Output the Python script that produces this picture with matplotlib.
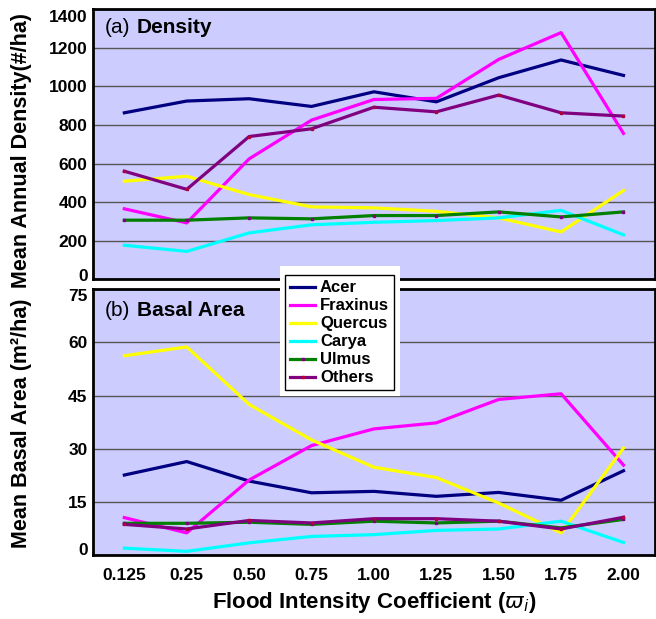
import matplotlib.pyplot as plt
import matplotlib.patches as mpatches
from matplotlib.transforms import ScaledTranslation
import numpy as np

plt.rcParams['font.family'] = ['Liberation Sans', 'DejaVu Sans']
plt.rcParams['mathtext.fontset'] = 'dejavusans'

# flood intensity classes (categorical x axis)
flood_labels = ['0.125', '0.25', '0.50', '0.75', '1.00', '1.25', '1.50', '1.75', '2.00']
genera = ['Acer', 'Fraxinus', 'Quercus', 'Carya', 'Ulmus', 'Others']
colors = ['#000080', '#ff00ff', '#ffff00', '#00ffff', '#007f00', '#800080']
# the excel export leaves tiny point markers on the last two series
marker_colors = [None, None, None, None, '#800080', '#b0003a']

# (a) mean annual density, #/ha
density_acer = [863, 924, 936, 896, 972, 920, 1045, 1137, 1057]
density_fraxinus = [365, 292, 624, 825, 932, 938, 1140, 1279, 756]
density_quercus = [508, 534, 439, 375, 370, 352, 318, 245, 460]
density_carya = [176, 144, 240, 282, 295, 304, 318, 357, 230]
density_ulmus = [306, 306, 318, 313, 330, 330, 349, 323, 349]
density_others = [560, 466, 740, 780, 892, 868, 955, 863, 846]

# (b) mean basal area, m2/ha
basal_acer = [22.6, 26.4, 20.9, 17.6, 18.0, 16.6, 17.7, 15.5, 23.8]
basal_fraxinus = [10.6, 6.3, 21.2, 30.9, 35.6, 37.3, 43.9, 45.5, 25.4]
basal_quercus = [56.2, 58.7, 42.5, 32.5, 24.8, 21.9, 14.7, 6.3, 30.2]
basal_carya = [2.0, 1.1, 3.5, 5.3, 5.8, 7.0, 7.4, 9.6, 3.6]
basal_ulmus = [9.0, 9.0, 9.3, 8.7, 9.6, 9.1, 9.6, 7.7, 10.1]
basal_others = [8.7, 7.4, 9.8, 9.1, 10.3, 10.3, 9.6, 7.4, 10.7]

density = [density_acer, density_fraxinus, density_quercus,
	density_carya, density_ulmus, density_others]
basal = [basal_acer, basal_fraxinus, basal_quercus,
	basal_carya, basal_ulmus, basal_others]


def drawPanel(ax, series, yticks, title_tag, title_word, title_y):
	x = np.arange(len(flood_labels))
	for name, values, color, mcol in zip(genera, series, colors, marker_colors):
		if mcol is None:
			ax.plot(x, values, color=color, lw=2.3, label=name)
		else:
			ax.plot(x, values, color=color, lw=2.3, label=name, marker='s',
				ms=2, mfc=mcol, mec=mcol)
	ax.set_facecolor('#ccccff')
	ax.set_xlim(-0.5, 8.5)
	ax.set_ylim(yticks[0], yticks[-1])
	ax.set_yticks(yticks)
	ax.yaxis.grid(True, color='#555555', lw=1)
	ax.set_axisbelow(True)
	for sp in ax.spines.values():
		sp.set_linewidth(2)
	ax.tick_params(length=0, labelsize=12.5, pad=4)
	for lab in ax.get_yticklabels():
		lab.set_fontweight('bold')
	ax.text(0.021, title_y, title_tag, transform=ax.transAxes, fontsize=15, va='center')
	ax.text(0.078, title_y, title_word, transform=ax.transAxes, fontsize=15,
		fontweight='bold', va='center')


def nudgeEndLabels(ax, fig, low_px, high_px):
	# the end labels sit a little inside the frame, as in the original
	ticks = ax.yaxis.get_major_ticks()
	for tick, dy in ((ticks[0], low_px), (ticks[-1], -high_px)):
		lab = tick.label1
		lab.set_transform(lab.get_transform() + ScaledTranslation(0, dy / 100, fig.dpi_scale_trans))


fig = plt.figure(figsize=(6.56, 6.19), dpi=100)
ax_top = fig.add_axes([0.142, 0.549, 0.856, 0.436])
ax_bot = fig.add_axes([0.142, 0.103, 0.856, 0.430])

drawPanel(ax_top, density, [0, 200, 400, 600, 800, 1000, 1200, 1400], '(a)', 'Density', 0.933)
drawPanel(ax_bot, basal, [0, 15, 30, 45, 60, 75], '(b)', 'Basal Area', 0.92)

ax_top.set_xticks(np.arange(len(flood_labels)))
ax_top.set_xticklabels([])
ax_bot.set_xticks(np.arange(len(flood_labels)))
ax_bot.set_xticklabels(flood_labels, fontweight='bold', fontsize=12.5)
ax_bot.tick_params(axis='x', pad=9)

nudgeEndLabels(ax_top, fig, 4, 7)
nudgeEndLabels(ax_bot, fig, 6, 6)

ax_top.set_ylabel('Mean Annual Density(#/ha)', fontsize=15.5, fontweight='bold')
ax_bot.set_ylabel('Mean Basal Area (m²/ha)', fontsize=15.5, fontweight='bold')
ax_top.yaxis.set_label_coords(-0.127, 0.478)
ax_bot.yaxis.set_label_coords(-0.127, 0.496)
ax_top.yaxis.label.set_va('center')
ax_bot.yaxis.label.set_va('center')
ax_bot.set_xlabel(r'Flood Intensity Coefficient ($\varpi_i$)', fontsize=16,
	fontweight='bold')
ax_bot.xaxis.set_label_coords(0.5, -0.177)
ax_bot.xaxis.label.set_va('center')

# white margin that sits round the legend frame in the original
fig.patches.append(mpatches.Rectangle((280 / 656, 1 - 396 / 619), 120 / 656, 130 / 619,
	transform=fig.transFigure, facecolor='white', edgecolor='none', zorder=5))

handles, labels = ax_top.get_legend_handles_labels()
leg = fig.legend(handles, labels, loc='upper left', bbox_to_anchor=(0.4345, 0.555),
	prop={'weight': 'bold', 'size': 12}, handlelength=1.5, borderaxespad=0,
	handletextpad=0.3, labelspacing=0.18, borderpad=0.3, fancybox=False,
	framealpha=1, edgecolor='black')
leg.get_frame().set_linewidth(1)
leg.set_zorder(6)

fig.savefig('out.png', dpi=100)
